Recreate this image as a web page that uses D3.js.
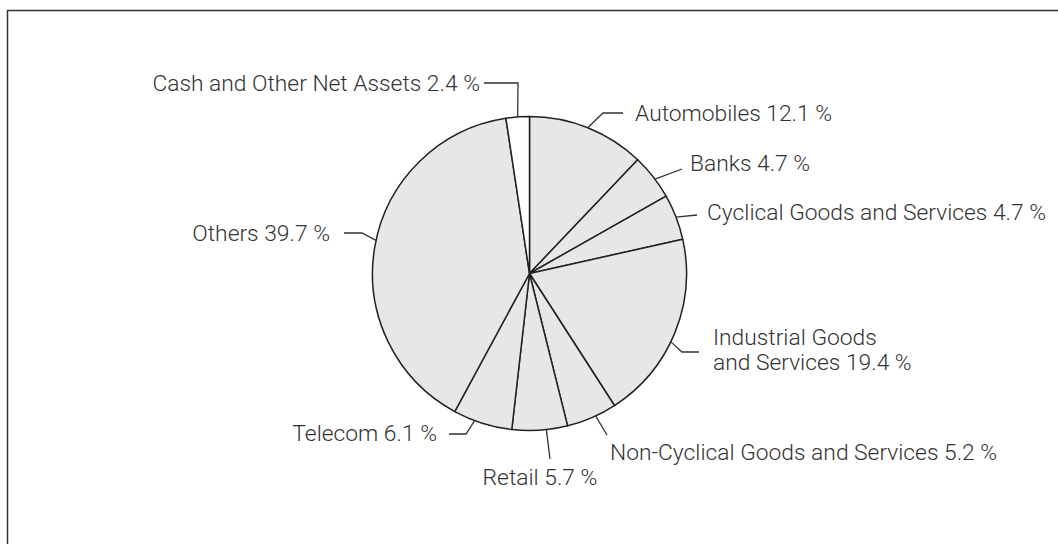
<!DOCTYPE html>
<meta charset="utf-8">
<title>Sector allocation</title>
<script src="https://d3js.org/d3.v7.min.js"></script>
<style>
body {margin: 0; background: #fff;}
.label {font-family: Roboto, "Liberation Sans", sans-serif; font-size: 22.8px; font-weight: 300; fill: #333;}
.leader {fill: none; stroke: #333; stroke-width: 1.3px;}
</style>
<body>
<div id="chart"></div>
<script>
// data, clockwise from 12 o'clock
var sectors = ["Automobiles", "Banks", "Cyclical Goods and Services", "Industrial Goods and Services",
               "Non-Cyclical Goods and Services", "Retail", "Telecom", "Others", "Cash and Other Net Assets"];
var shares = [12.1, 4.7, 4.7, 19.4, 5.2, 5.7, 6.1, 39.7, 2.4];
var labelLines = [
  ["Automobiles 12.1 %"],
  ["Banks 4.7 %"],
  ["Cyclical Goods and Services 4.7 %"],
  ["Industrial Goods", "and Services 19.4 %"],
  ["Non-Cyclical Goods and Services 5.2 %"],
  ["Retail 5.7 %"],
  ["Telecom 6.1 %"],
  ["Others 39.7 %"],
  ["Cash and Other Net Assets 2.4 %"]
];

// label placement (leader bend / end, text anchor point)
var layout = [
  {nudge: 0,   bend: [603, 113], end: [623, 113], text: [635, 113], anchor: "start"},
  {nudge: 1,   bend: null,       end: [682, 169], text: [690, 163], anchor: "start"},
  {nudge: 0,   bend: null,       end: [697, 215], text: [707, 212], anchor: "start"},
  {nudge: 3.5, bend: [682, 352], end: [699, 352], text: [713, 337], anchor: "start"},
  {nudge: -1.5,bend: null,       end: [607, 435], text: [610, 452], anchor: "start"},
  {nudge: -2.4,bend: null,       end: [550, 459], text: [540, 477], anchor: "middle"},
  {nudge: 3,   bend: [466, 434], end: [449, 434], text: [437, 433], anchor: "end"},
  {nudge: 2.3, bend: [362, 233], end: [344, 233], text: [330, 233], anchor: "end"},
  {nudge: 0,   bend: [518, 83],  end: [484, 83],  text: [480, 83],  anchor: "end"}
];

var width = 1058, height = 544,
    cx = 529.5, cy = 273.5, radius = 157;

var svg = d3.select("#chart")
  .append("svg")
    .attr("width", width)
    .attr("height", height);

// frame (only top and left edges fall inside the picture)
svg.append("rect")
  .attr("x", 7.5)
  .attr("y", 10.5)
  .attr("width", 1100)
  .attr("height", 600)
  .attr("fill", "none")
  .attr("stroke", "#333")
  .attr("stroke-width", 1.5);

var data = sectors.map(function(d, i) { return {name: d, value: shares[i], i: i}; });

var pie = d3.pie()
  .sort(null)
  .value(function(d) { return d.value; });

var arc = d3.arc()
  .innerRadius(0)
  .outerRadius(radius);

var arcs = pie(data);

var g = svg.append("g")
  .attr("transform", "translate(" + cx + "," + cy + ")");

g.selectAll("path.slice")
  .data(arcs)
  .enter()
  .append("path")
    .attr("class", "slice")
    .attr("d", arc)
    .attr("fill", function(d) { return d.data.name === "Cash and Other Net Assets" ? "#ffffff" : "#e6e7e9"; })
    .attr("stroke", "#222")
    .attr("stroke-width", 1.5)
    .attr("stroke-linejoin", "round");

// leaders
svg.selectAll("path.leader")
  .data(arcs)
  .enter()
  .append("path")
    .attr("class", "leader")
    .attr("d", function(d, i) {
      var L = layout[i];
      var a = (d.startAngle + d.endAngle) / 2 + L.nudge * Math.PI / 180;
      var p = [cx + radius * Math.sin(a), cy - radius * Math.cos(a)];
      var pts = [p];
      if (L.bend) pts.push(L.bend);
      pts.push(L.end);
      return d3.line()(pts);
    });

// labels
var labels = svg.selectAll("text.label")
  .data(arcs)
  .enter()
  .append("text")
    .attr("class", "label")
    .attr("text-anchor", function(d, i) { return layout[i].anchor; })
    .attr("x", function(d, i) { return layout[i].text[0]; })
    .attr("y", function(d, i) { return layout[i].text[1]; });

labels.selectAll("tspan")
  .data(function(d, i) { return labelLines[i].map(function(t, k) { return {t: t, k: k, x: layout[i].text[0]}; }); })
  .enter()
  .append("tspan")
    .attr("x", function(d) { return d.x; })
    .attr("dy", function(d) { return d.k === 0 ? "0.36em" : "1.1em"; })
    .text(function(d) { return d.t; });
</script>
